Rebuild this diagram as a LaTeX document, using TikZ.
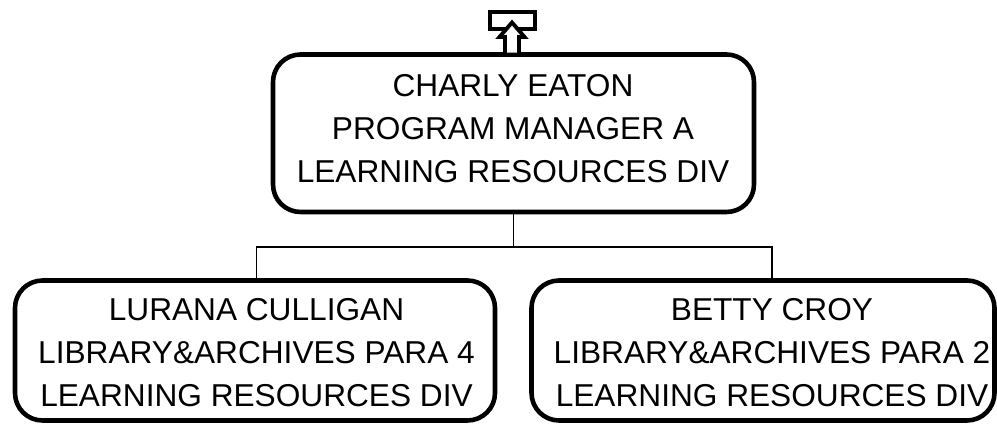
\documentclass[tikz,border=0pt]{standalone}
\usepackage{fontspec}
\setmainfont{Liberation Sans}
\tikzset{
  orgbox/.style={draw,line width=2.6pt,rounded corners=0.55cm,minimum width=9.6cm,minimum height=2.8cm},
  orgtext/.style={align=center,inner sep=0pt,font=\fontsize{18}{24.5}\selectfont},
  orgline/.style={line width=1.1pt}
}
\begin{document}
\begin{tikzpicture}
  \useasboundingbox (0,0) rectangle (19.94,8.52);
  % boxes
  \node[orgbox,minimum width=9.62cm,minimum height=3.15cm] (boss) at (10.27,5.855) {};
  \node[orgbox] (lbox) at (5.10,1.51) {};
  \node[orgbox,minimum width=9.26cm] (rbox) at (15.26,1.51) {};
  \node[orgtext] (bosstxt) at (10.26,5.95) {CHARLY EATON\\PROGRAM MANAGER A\\LEARNING RESOURCES DIV};
  \node[orgtext] (ltxt) at (5.13,1.47) {LURANA CULLIGAN\\LIBRARY\&ARCHIVES PARA 4\\LEARNING RESOURCES DIV};
  \node[orgtext] (rtxt) at (15.44,1.47) {BETTY CROY\\LIBRARY\&ARCHIVES PARA 2\\LEARNING RESOURCES DIV};
  % connectors
  \coordinate (bus) at (10.26,3.58);
  \draw[orgline] (boss.south) -- (boss.south |- bus);
  \draw[orgline] (ltxt.center |- lbox.north) |- (bus) -| (rtxt.center |- rbox.north);
  % up marker
  \node[draw,line width=2.2pt,inner sep=0pt,minimum width=0.9cm,minimum height=0.34cm] (upbox) at (10.25,8.11) {};
  \draw[line width=2.2pt,fill=white,miter limit=10] (10.24,8.07) -- (10.49,7.78) -- (10.38,7.78) -- (10.38,7.43)
    -- (10.10,7.43) -- (10.10,7.78) -- (9.99,7.78) -- cycle;
\end{tikzpicture}
\end{document}
